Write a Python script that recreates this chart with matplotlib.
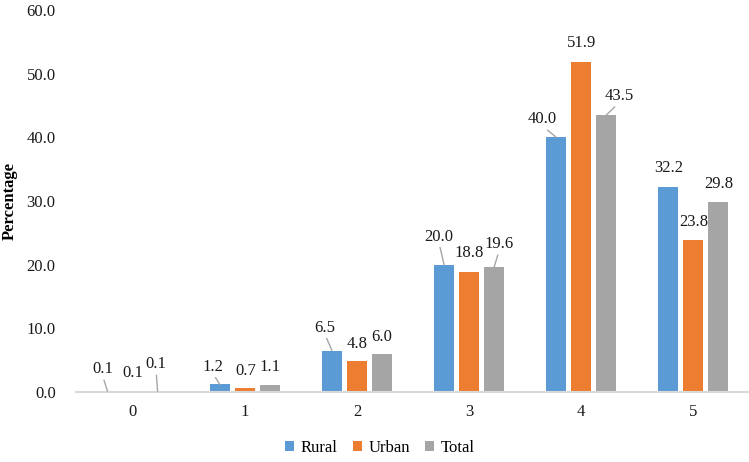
import matplotlib
matplotlib.use("Agg")
import matplotlib.pyplot as plt
import numpy as np

categories = ["0", "1", "2", "3", "4", "5"]
rural = [0.1, 1.2, 6.5, 20.0, 40.0, 32.2]
urban = [0.1, 0.7, 4.8, 18.8, 51.9, 23.8]
total = [0.1, 1.1, 6.0, 19.6, 43.5, 29.8]
series_names = ["Rural", "Urban", "Total"]
yticks = [0, 10, 20, 30, 40, 50, 60]

colors = ["#5B9BD5", "#ED7D31", "#A5A5A5"]

# label offsets in pixels (dx, dy) relative to the bar top, and leader flag
label_layout = {
    "Rural": [(-5, 22, True), (-7, 17.5, True), (-7, 23, True), (-5, 28, True), (-14, 18, True), (0, 19, False)],
    "Urban": [(0, 18, False), (1, 17, False), (0, 17, False), (0, 19, False), (0, 19, False), (0, 18, False)],
    "Total": [(-1.5, 27, True), (0, 18, False), (0, 17, False), (5, 23, True), (13, 19, True), (0, 18, False)],
}

plt.rcParams["font.family"] = ["Liberation Serif", "DejaVu Serif"]
plt.rcParams["font.size"] = 12

fig = plt.figure(figsize=(7.49, 4.62), dpi=100)
ax = fig.add_axes([76.5 / 749, 70 / 462, 673 / 749, 382 / 462])

x = np.arange(len(categories))
width = 0.178
step = 0.223
data = [rural, urban, total]
px2pt = 72 / 100

for i, (name, vals) in enumerate(zip(series_names, data)):
    xs = x + (i - 1) * step
    ax.bar(xs, vals, width=width, color=colors[i], label=name, zorder=3)
    for j, (xx, v) in enumerate(zip(xs, vals)):
        dx, dy, leader = label_layout[name][j]
        kw = {}
        if leader:
            kw["arrowprops"] = dict(arrowstyle="-", color="#A6A6A6", lw=1.0,
                                    shrinkA=0, shrinkB=0, relpos=(0.5, 0.1))
        ax.annotate(f"{v:.1f}", xy=(xx, v), xytext=(dx * px2pt, dy * px2pt),
                    textcoords="offset points", ha="center", va="center",
                    fontsize=12, color="#1a1a1a", zorder=5, **kw)

ax.set_xlim(-0.5, len(categories) - 0.5)
ax.set_ylim(0, 60)
ax.set_yticks(yticks)
ax.set_yticklabels([f"{t:.1f}" for t in yticks])
ax.set_xticks(x)
ax.set_xticklabels(categories)
ax.tick_params(axis="both", length=0, labelsize=12, colors="#1a1a1a")
ax.tick_params(axis="y", pad=15)
ax.tick_params(axis="x", pad=9)

for s in ["top", "right", "left"]:
    ax.spines[s].set_visible(False)
ax.spines["bottom"].set_color("#D9D9D9")
ax.spines["bottom"].set_linewidth(1.5)
ax.spines["bottom"].set_zorder(4)

ax.set_ylabel("Percentage", fontweight="bold", fontsize=12, color="#000000")
ax.yaxis.set_label_coords(-59 / 673, 0.5)

fig.legend(loc="center", bbox_to_anchor=(380 / 749, 14 / 462), ncol=3, frameon=False,
           handlelength=0.55, handleheight=0.55, handletextpad=0.4, columnspacing=0.9,
           fontsize=12)

fig.savefig("out.png", dpi=100)
